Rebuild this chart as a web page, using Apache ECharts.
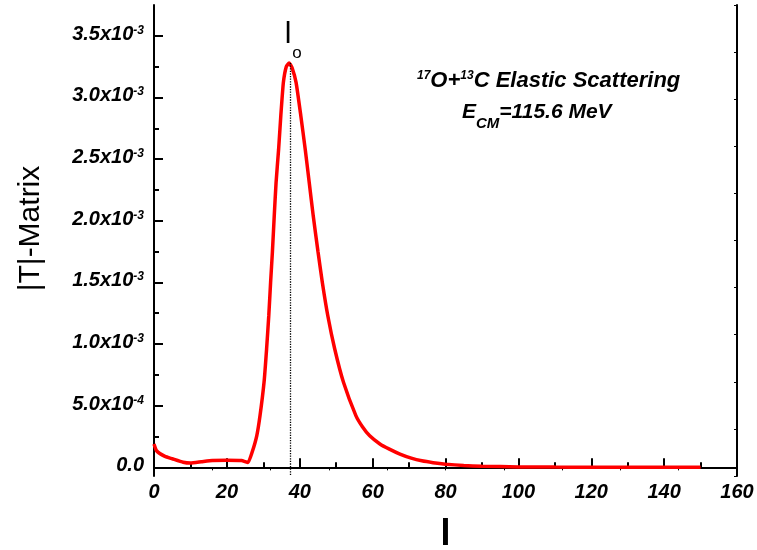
<!DOCTYPE html>
<html><head><meta charset="utf-8">
<script src="https://cdn.jsdelivr.net/npm/echarts@6/dist/echarts.min.js"></script>
<style>html,body{margin:0;padding:0;background:#fff}#c{width:757px;height:550px}</style>
</head><body><div id="c"></div>
<script>
// ---- data ----
const lValues = [0, 0.7, 3, 5, 8, 10, 13, 16, 20, 24, 25.8, 26.9, 28.2, 29.1, 30.2, 30.9, 31.5, 32.0, 32.5, 33.0, 33.5, 34.2, 34.8, 35.5, 36.3, 37.1, 37.9, 39.0, 40.3, 41.5, 42.6, 43.7, 45.0, 46.2, 47.7, 49.6, 52.0, 55.4, 57.2, 59.2, 62.0, 64.6, 67.5, 70.6, 73.5, 76.6, 80, 85, 90, 100, 110, 120, 130, 140, 150];
// |T| in units of 1e-3
const tValuesE3 = [0.19, 0.135, 0.089, 0.07, 0.042, 0.035, 0.045, 0.055, 0.058, 0.055, 0.04, 0.12, 0.256, 0.42, 0.69, 0.96, 1.23, 1.50, 1.75, 2.04, 2.31, 2.58, 2.85, 3.12, 3.25, 3.28, 3.24, 3.12, 2.85, 2.58, 2.31, 2.04, 1.75, 1.50, 1.23, 0.96, 0.69, 0.42, 0.33, 0.256, 0.19, 0.148, 0.108, 0.075, 0.053, 0.038, 0.026, 0.015, 0.009, 0.004, 0.002, 0.001, 0, 0, 0];
const peakL = 37.3;
const peakT = 0.00328;
const xMin = 0, xMax = 160, xStep = 20;
const yMin = -0.00007, yMax = 0.00375;
const yTickValues = [0, 0.0005, 0.001, 0.0015, 0.002, 0.0025, 0.003, 0.0035];
const yTickMantissa = ['0.0', '5.0x10', '1.0x10', '1.5x10', '2.0x10', '2.5x10', '3.0x10', '3.5x10'];
const yTickExponent = ['', '-4', '-3', '-3', '-3', '-3', '-3', '-3'];
const yMinorValues = [0.00025, 0.00075, 0.00125, 0.00175, 0.00225, 0.00275, 0.00325];
const yAxisName = '|T|-Matrix';
const xAxisName = 'l';
// ---------------------------------

const FF = '"Liberation Sans", Arial, Helvetica, sans-serif';
const seriesData = lValues.map((l, i) => [l, tValuesE3[i] * 1e-3]);

function yLabel(v) {
  let idx = -1;
  for (let i = 0; i < yTickValues.length; i++) if (Math.abs(yTickValues[i] - v) < 1e-9) idx = i;
  if (idx < 0) return '';
  if (!yTickExponent[idx]) return '{m|' + yTickMantissa[idx] + '}';
  return '{m|' + yTickMantissa[idx] + '}{s|' + yTickExponent[idx] + '}';
}

const chart = echarts.init(document.getElementById('c'), null, {renderer: 'canvas'});
chart.setOption({
  animation: false,
  backgroundColor: '#fff',
  grid: {left: 154, right: 20, top: 5, bottom: 74, containLabel: false, outerBoundsMode: 'none'},
  xAxis: [{
    type: 'value', position: 'bottom', min: xMin, max: xMax, interval: xStep,
    name: xAxisName, nameLocation: 'middle', nameGap: 41,
    nameTextStyle: {fontFamily: FF, fontSize: 36, fontWeight: 'bold', color: '#000'},
    axisLine: {show: true, lineStyle: {color: '#000', width: 2}},
    axisTick: {show: true, inside: true, length: 9, lineStyle: {color: '#000', width: 2}},
    minorTick: {show: true, splitNumber: 2, length: 5, lineStyle: {color: '#000', width: 2}},
    axisLabel: {show: true, margin: 6, fontFamily: FF, fontSize: 20, fontWeight: 'bold', fontStyle: 'italic', color: '#000', showMinLabel: true, showMaxLabel: true},
    splitLine: {show: false}, minorSplitLine: {show: false}
  }, {
    type: 'value', position: 'top', min: 0, max: 10, interval: 1,
    axisLine: {show: true, lineStyle: {color: '#000', width: 2}},
    axisTick: {show: true, inside: true, length: 3, lineStyle: {color: '#000', width: 1}},
    axisLabel: {show: false}, splitLine: {show: false}
  }],
  yAxis: [{
    type: 'value', position: 'left', min: yMin, max: yMax,
    name: yAxisName, nameLocation: 'middle', nameGap: 108,
    nameTextStyle: {fontFamily: FF, fontSize: 30, color: '#000', padding: [0, 0, 0, 24]},
    axisLine: {show: true, lineStyle: {color: '#000', width: 2}},
    axisTick: {show: true, inside: true, length: 9, customValues: yTickValues, lineStyle: {color: '#000', width: 2}},
    axisLabel: {
      show: true, margin: 10, customValues: yTickValues, formatter: yLabel,
      rich: {
        m: {fontFamily: FF, fontSize: 20, fontWeight: 'bold', fontStyle: 'italic', color: '#000', lineHeight: 23, verticalAlign: 'top'},
        s: {fontFamily: FF, fontSize: 12, fontWeight: 'bold', fontStyle: 'italic', color: '#000', lineHeight: 12, verticalAlign: 'top'}
      }
    },
    splitLine: {show: false}
  }, {
    type: 'value', position: 'left', min: yMin, max: yMax,
    axisLine: {show: false},
    axisTick: {show: true, inside: true, length: 5, customValues: yMinorValues, lineStyle: {color: '#000', width: 2}},
    axisLabel: {show: false}, splitLine: {show: false}
  }, {
    type: 'value', position: 'right', min: 0, max: 10, interval: 1,
    axisLine: {show: true, lineStyle: {color: '#000', width: 2}},
    axisTick: {show: true, inside: true, length: 3, lineStyle: {color: '#000', width: 1}},
    axisLabel: {show: false}, splitLine: {show: false}
  }],
  series: [{
    type: 'line', xAxisIndex: 0, yAxisIndex: 0,
    data: seriesData, showSymbol: false, smooth: 0.15,
    lineStyle: {color: '#ff0000', width: 3.5},
    markLine: {
      silent: true, symbol: ['none', 'none'], animation: false,
      label: {show: false},
      lineStyle: {color: '#000', type: 'dotted', width: 1.3},
      data: [[{coord: [peakL, peakT]}, {coord: [peakL, yMin]}]]
    }
  }],
  graphic: [
    {type: 'text', x: 288, y: 35, style: {text: 'l', fontFamily: FF, fontSize: 30, fill: '#000', align: 'center', verticalAlign: 'middle'}},
    {type: 'text', x: 297, y: 53, style: {text: 'o', fontFamily: FF, fontSize: 17, fill: '#000', align: 'center', verticalAlign: 'middle'}},
    {type: 'text', x: 417, y: 70, style: {
      text: '{sup|17}{b|O+}{sup|13}{b|C Elastic Scattering}', align: 'left', verticalAlign: 'top',
      rich: {
        b: {fontFamily: FF, fontSize: 22, fontWeight: 'bold', fontStyle: 'italic', fill: '#000', lineHeight: 25, verticalAlign: 'top'},
        sup: {fontFamily: FF, fontSize: 12, fontWeight: 'bold', fontStyle: 'italic', fill: '#000', lineHeight: 12, verticalAlign: 'top'}
      }}},
    {type: 'text', x: 462, y: 102, style: {
      text: '{b|E}{sub|CM}{b|=115.6 MeV}', align: 'left', verticalAlign: 'top',
      rich: {
        b: {fontFamily: FF, fontSize: 21, fontWeight: 'bold', fontStyle: 'italic', fill: '#000', lineHeight: 24, verticalAlign: 'top'},
        sub: {fontFamily: FF, fontSize: 15, fontWeight: 'bold', fontStyle: 'italic', fill: '#000', lineHeight: 15, verticalAlign: 'top', padding: [14, 0, 0, 0]}
      }}}
  ]
});
</script>
</body></html>
